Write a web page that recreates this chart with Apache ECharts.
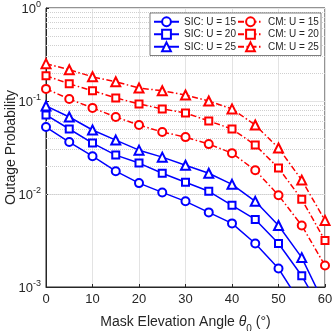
<!DOCTYPE html>
<html>
<head>
<meta charset="utf-8">
<script src="https://cdn.jsdelivr.net/npm/echarts@6/dist/echarts.min.js"></script>
<style>
  html, body { margin: 0; padding: 0; background: #fff; }
  #chart { width: 332px; height: 331px; }
</style>
</head>
<body>
<div id="chart"></div>
<script>
// mask elevation angle (deg)
const angles = [0, 5, 10, 15, 20, 25, 30, 35, 40, 45, 50, 55, 60]

// outage probability
const sicU15 = [0.0525, 0.0362, 0.0255, 0.0176, 0.0131, 0.0104, 0.00834, 0.00634, 0.00483, 0.00294, 0.00158, 0.00064, 0.00026]
const sicU20 = [0.0708, 0.050, 0.0353, 0.0262, 0.0215, 0.0167, 0.0134, 0.0107, 0.00755, 0.00533, 0.00294, 0.00132, 0.00048]
const sicU25 = [0.0885, 0.0673, 0.0488, 0.038, 0.0296, 0.0249, 0.0204, 0.0167, 0.0127, 0.00834, 0.00459, 0.00207, 0.00063]
const cmU15 = [0.135, 0.105, 0.0843, 0.0673, 0.0552, 0.0464, 0.0409, 0.0344, 0.0275, 0.018, 0.00968, 0.00459, 0.0017]
const cmU20 = [0.187, 0.153, 0.129, 0.108, 0.093, 0.0822, 0.0744, 0.061, 0.050, 0.0336, 0.019, 0.00877, 0.00316]
const cmU25 = [0.252, 0.217, 0.182, 0.161, 0.138, 0.129, 0.116, 0.100, 0.0822, 0.0552, 0.0312, 0.0141, 0.0052]

// dotted minor grid (2..9 in each decade)
const minorGrid = [
  0.002, 0.003, 0.004, 0.005, 0.006, 0.007, 0.008, 0.009,
  0.02, 0.03, 0.04, 0.05, 0.06, 0.07, 0.08, 0.09,
  0.2, 0.3, 0.4, 0.5, 0.6, 0.7, 0.8, 0.9
]

const font = 'Liberation Sans, Arial, Helvetica, sans-serif'
const ink = '#262626'

const chart = echarts.init(document.getElementById('chart'))

function makeSeries(name, values, color, symbol, dashed) {
  return {
    name: name,
    type: 'line',
    data: angles.map((a, i) => [a, values[i]]),
    symbol: symbol,
    symbolSize: symbol === 'emptyTriangle' ? 9 : (symbol === 'emptyRect' ? 7 : 8),
    clip: true,
    z: 3,
    lineStyle: {
      color: color,
      width: 1.5,
      type: dashed ? [6, 2.5, 1.5, 2.5] : 'solid'
    },
    itemStyle: { color: color, borderWidth: 1.2 }
  }
}

const legendOrder = ['SIC: U = 15', 'CM: U = 15', 'SIC: U = 20', 'CM: U = 20', 'SIC: U = 25', 'CM: U = 25']

const sicFirst = makeSeries('SIC: U = 15', sicU15, '#0000ff', 'emptyCircle', false)
sicFirst.markLine = {
  silent: true,
  z: 1,
  symbol: ['none', 'none'],
  label: { show: false },
  emphasis: { disabled: true },
  lineStyle: { type: 'dotted', color: '#cfcfcf', width: 1 },
  data: minorGrid.map(v => ({ yAxis: v }))
}

chart.setOption({
  animation: false,
  textStyle: { fontFamily: font },
  grid: {
    left: 46, right: 7, top: 8, bottom: 44,
    outerBoundsMode: 'none',
    containLabel: false,
    show: true, borderColor: ink, borderWidth: 1, backgroundColor: '#fff'
  },
  legend: {
    data: legendOrder,
    left: 150, top: 13,
    width: 168,
    orient: 'horizontal',
    itemWidth: 25,
    itemHeight: 11,
    itemGap: 1,
    padding: [3, 1, 3, 3],
    backgroundColor: '#fff',
    borderColor: '#262626',
    borderWidth: 0.6,
    textStyle: { fontSize: 10, color: ink, fontFamily: font, width: 52, lineHeight: 11.5 }
  },
  xAxis: {
    type: 'value',
    min: 0, max: 60, interval: 10,
    name: '{t|Mask Elevation Angle }{th|θ}{sub|0}{t| (°)}',
    nameLocation: 'middle',
    nameGap: 24,
    nameMoveOverlap: false,
    nameTextStyle: {
      rich: {
        t: { fontSize: 14, color: ink, fontFamily: font, verticalAlign: 'bottom', lineHeight: 18 },
        th: { fontSize: 14, color: ink, fontFamily: font, fontStyle: 'italic', verticalAlign: 'bottom', lineHeight: 18 },
        sub: { fontSize: 10, color: ink, fontFamily: font, verticalAlign: 'bottom', lineHeight: 18, padding: [0, 0, -5, 0] }
      }
    },
    axisLine: { lineStyle: { color: ink } },
    axisTick: { inside: true, length: 3, lineStyle: { color: ink } },
    axisLabel: { fontSize: 13, color: ink, margin: 6 },
    splitLine: { lineStyle: { color: '#e3e3e3' } }
  },
  yAxis: {
    type: 'log',
    logBase: 10,
    min: 0.001, max: 1,
    name: 'Outage Probability',
    nameLocation: 'middle',
    nameGap: 28,
    nameMoveOverlap: false,
    nameTextStyle: { fontSize: 14, color: ink },
    axisLine: { lineStyle: { color: ink } },
    axisTick: { inside: true, length: 3, lineStyle: { color: ink } },
    axisLabel: {
      margin: 5,
      formatter: v => '{b|10}{s|' + Math.round(Math.log10(v)) + '}',
      rich: {
        b: { fontSize: 13, color: ink, fontFamily: font, verticalAlign: 'bottom', lineHeight: 16 },
        s: { fontSize: 9, color: ink, fontFamily: font, verticalAlign: 'bottom', lineHeight: 16, padding: [0, 0, 7, 0] }
      }
    },
    splitLine: { lineStyle: { color: '#e3e3e3' } }
  },
  series: [
    sicFirst,
    makeSeries('SIC: U = 20', sicU20, '#0000ff', 'emptyRect', false),
    makeSeries('SIC: U = 25', sicU25, '#0000ff', 'emptyTriangle', false),
    makeSeries('CM: U = 15', cmU15, '#ff0000', 'emptyCircle', true),
    makeSeries('CM: U = 20', cmU20, '#ff0000', 'emptyRect', true),
    makeSeries('CM: U = 25', cmU25, '#ff0000', 'emptyTriangle', true)
  ]
})
</script>
</body>
</html>
